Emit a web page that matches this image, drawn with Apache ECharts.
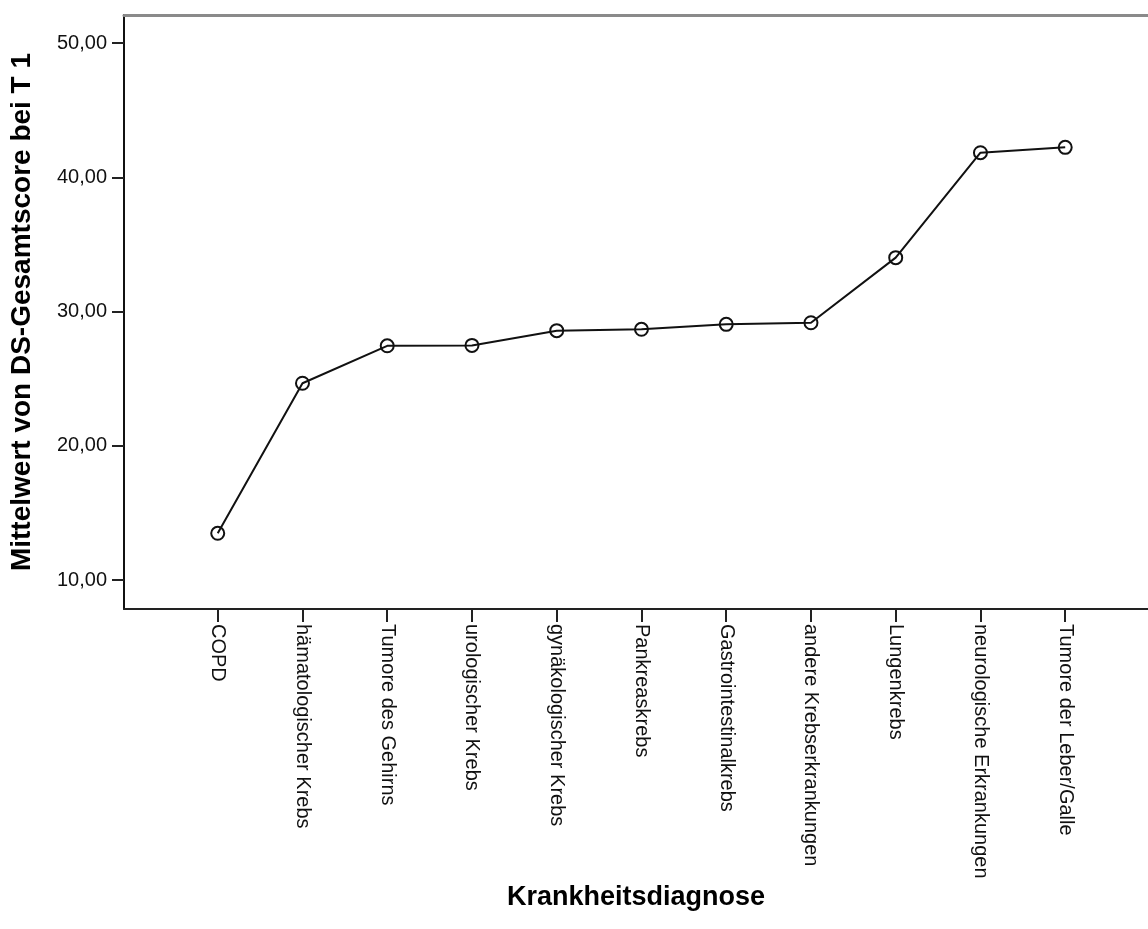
<!DOCTYPE html>
<html>
<head>
<meta charset="utf-8">
<script src="https://cdn.jsdelivr.net/npm/echarts@6/dist/echarts.min.js"></script>
<style>
html,body{margin:0;padding:0;background:#fff;}
#chart{width:1148px;height:929px;}
</style>
</head>
<body>
<div id="chart"></div>
<script>
const categories = ["COPD","hämatologischer Krebs","Tumore des Gehirns","urologischer Krebs","gynäkologischer Krebs","Pankreaskrebs","Gastrointestinalkrebs","andere Krebserkrankungen","Lungenkrebs","neurologische Erkrankungen","Tumore der Leber/Galle"];
const meanValues = [13.48,24.66,27.45,27.48,28.58,28.68,29.05,29.17,34.02,41.84,42.24];
const yTicks = [10,20,30,40,50];
const yTitle = "Mittelwert von DS-Gesamtscore bei T 1";
const xTitle = "Krankheitsdiagnose";

const catIdx = categories.map((c,i)=>i);
const seriesData = meanValues.map((v,i)=>[i,v]);
const fmt = v => v.toFixed(2).replace('.', ',');

const chart = echarts.init(document.getElementById('chart'), null, {renderer:'canvas'});
chart.setOption({
  animation:false,
  backgroundColor:'#fff',
  grid:{left:124, right:0, top:15, bottom:320, containLabel:false, outerBoundsMode:'none'},
  xAxis:[{
    type:'value', min:-1.106, max:10.977,
    splitLine:{show:false},
    axisLine:{show:true, onZero:false, lineStyle:{color:'#222', width:2}},
    axisTick:{show:true, customValues:catIdx, length:13, lineStyle:{color:'#222', width:2}},
    axisLabel:{show:true, customValues:catIdx, rotate:-90, margin:15,
      formatter:v=>categories[Math.round(v)] || '',
      fontFamily:'Liberation Sans, Arial, sans-serif', fontSize:20, color:'#111'},
    name:xTitle, nameLocation:'middle', nameGap:275, nameMoveOverlap:false,
    nameTextStyle:{fontFamily:'Liberation Sans, Arial, sans-serif', fontSize:27, fontWeight:'bold', color:'#000'}
  },{
    type:'value', position:'top', min:-1.106, max:10.977,
    splitLine:{show:false}, axisTick:{show:false}, axisLabel:{show:false},
    axisLine:{show:true, onZero:false, lineStyle:{color:'#8a8a8a', width:3}}
  }],
  yAxis:{
    type:'value', min:7.84, max:52.10,
    splitLine:{show:false},
    axisLine:{show:true, onZero:false, lineStyle:{color:'#111', width:2}},
    axisTick:{show:true, customValues:yTicks, length:12, lineStyle:{color:'#222', width:2}},
    axisLabel:{show:true, customValues:yTicks, margin:17, formatter:v=>fmt(v),
      fontFamily:'Liberation Sans, Arial, sans-serif', fontSize:20, color:'#111'},
    name:yTitle, nameLocation:'middle', nameGap:88, nameMoveOverlap:false,
    nameTextStyle:{fontFamily:'Liberation Sans, Arial, sans-serif', fontSize:28, fontWeight:'bold', color:'#000'}
  },
  series:[{
    type:'line', data:seriesData,
    symbol:'circle', symbolSize:13,
    lineStyle:{color:'#111', width:2},
    itemStyle:{color:'rgba(0,0,0,0)', borderColor:'#111', borderWidth:2},
    z:3
  }]
});
</script>
</body>
</html>
